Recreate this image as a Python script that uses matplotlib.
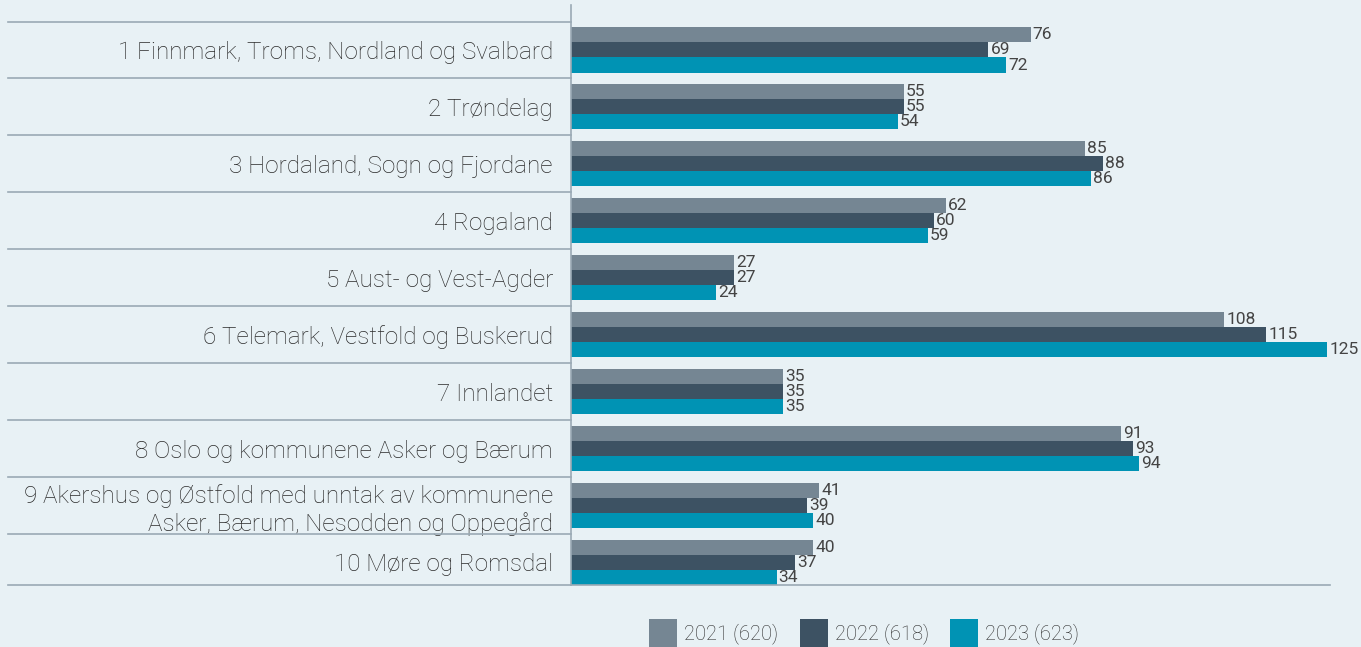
import matplotlib.pyplot as plt
import numpy as np
from matplotlib.patches import Patch
from matplotlib.transforms import blended_transform_factory

# data
regions = [
    "1 Finnmark, Troms, Nordland og Svalbard",
    "2 Trøndelag",
    "3 Hordaland, Sogn og Fjordane",
    "4 Rogaland",
    "5 Aust- og Vest-Agder",
    "6 Telemark, Vestfold og Buskerud",
    "7 Innlandet",
    "8 Oslo og kommunene Asker og Bærum",
    "9 Akershus og Østfold med unntak av kommunene\nAsker, Bærum, Nesodden og Oppegård",
    "10 Møre og Romsdal",
]
v2021 = [76, 55, 85, 62, 27, 108, 35, 91, 41, 40]
v2022 = [69, 55, 88, 60, 27, 115, 35, 93, 39, 37]
v2023 = [72, 54, 86, 59, 24, 125, 35, 94, 40, 34]
series_labels = ["2021 (620)", "2022 (618)", "2023 (623)"]

colors = ["#758693", "#3d5263", "#0093b4"]
bg = "#e8f1f5"
line_c = "#9aaab5"
txt_c = "#2b2b2b"

plt.rcParams['font.family'] = ['Roboto', 'DejaVu Sans']

fig = plt.figure(figsize=(13.61, 6.47), dpi=100, facecolor=bg)
ax = fig.add_axes([571 / 1361, 62 / 647, 759 / 1361, 580 / 647])
ax.set_facecolor(bg)

y = np.arange(len(regions))
h = 0.264
for k, vals in enumerate([v2021, v2022, v2023]):
    bars = ax.barh(y + (k - 1) * h, vals, height=h, color=colors[k], zorder=2)
    for b, v in zip(bars, vals):
        ax.text(b.get_width() + 0.35, b.get_y() + b.get_height() / 2, str(v),
                va='center', ha='left', fontsize=12.5, color='#444444',
                clip_on=False)

ax.set_xlim(0, 125.5)
ax.set_ylim(9 + 1.5 * h, -0.79)

ax.set_yticks(y)
ax.set_yticklabels(regions, fontsize=17.5, color=txt_c, fontweight='light',
                   ha='right', linespacing=1.2)
ax.tick_params(axis='y', length=0, pad=13)
ax.set_xticks([])

for s in ['top', 'right']:
    ax.spines[s].set_visible(False)
ax.spines['left'].set_color(line_c)
ax.spines['bottom'].set_color(line_c)
ax.spines['left'].set_linewidth(1.2)
ax.spines['bottom'].set_linewidth(1.2)

# row separators on the label side
tr = blended_transform_factory(fig.transFigure, ax.transData)
for yy in list(y[:-1] + 0.5) + [-0.5]:
    ax.plot([8 / 1361, 571 / 1361], [yy, yy], transform=tr, color=line_c,
            lw=1.2, clip_on=False)
ax.plot([8 / 1361, 571 / 1361], [9 + 1.5 * h] * 2, transform=tr,
        color=line_c, lw=1.2, clip_on=False)

handles = [Patch(facecolor=c, edgecolor='none') for c in colors]
fig.legend(handles, series_labels, loc='center', bbox_to_anchor=(0.635, 0.022),
           ncol=3, frameon=False, handlelength=1.4,
           handleheight=1.75, handletextpad=0.35, columnspacing=1.05,
           labelcolor=txt_c, prop={'weight': 'light', 'size': 14.5})

fig.savefig("out.png", dpi=100, facecolor=bg)
